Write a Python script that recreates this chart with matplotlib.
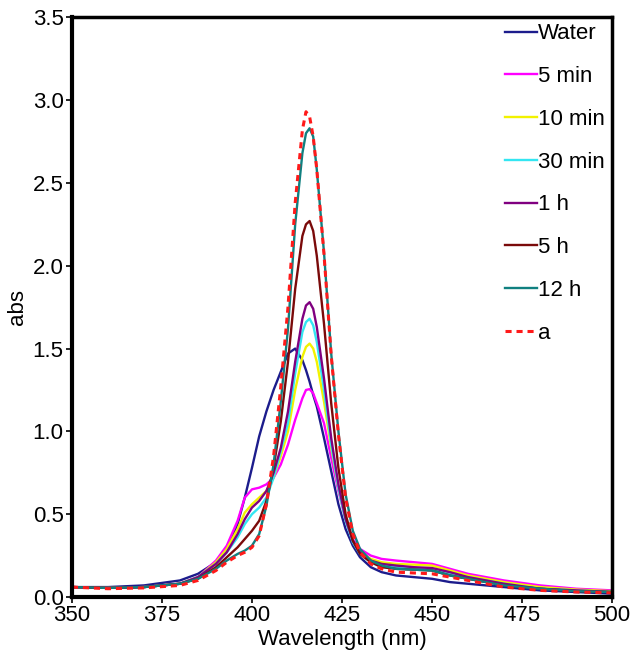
import numpy as np
import matplotlib.pyplot as plt

plt.rcParams['font.family'] = ['Liberation Sans', 'DejaVu Sans']

# wavelength grid (nm)
wl = [350, 360, 370, 380, 385, 390, 393, 396, 398, 400, 402, 404, 406, 408, 410,
      412, 414, 415, 416, 417, 418, 420, 422, 424, 426, 428, 430, 433, 436, 440,
      445, 450, 455, 460, 470, 480, 490, 500]

water = [0.06, 0.06, 0.07, 0.10, 0.14, 0.21, 0.29, 0.44, 0.60, 0.78, 0.97, 1.12, 1.25, 1.36, 1.47,
         1.50, 1.43, 1.37, 1.30, 1.22, 1.15, 0.96, 0.76, 0.56, 0.41, 0.31, 0.24, 0.18, 0.15, 0.13,
         0.12, 0.11, 0.09, 0.08, 0.06, 0.04, 0.03, 0.02]
min5 = [0.06, 0.055, 0.06, 0.08, 0.12, 0.22, 0.31, 0.46, 0.60, 0.65, 0.66, 0.68, 0.72, 0.80, 0.92,
        1.07, 1.20, 1.25, 1.255, 1.23, 1.17, 1.05, 0.84, 0.64, 0.47, 0.35, 0.29, 0.25, 0.23, 0.22,
        0.21, 0.20, 0.17, 0.14, 0.10, 0.07, 0.05, 0.04]
min10 = [0.06, 0.055, 0.06, 0.08, 0.12, 0.21, 0.29, 0.41, 0.51, 0.56, 0.60, 0.64, 0.72, 0.85, 1.00,
         1.25, 1.45, 1.51, 1.53, 1.50, 1.42, 1.18, 0.90, 0.66, 0.47, 0.34, 0.27, 0.23, 0.21, 0.20,
         0.195, 0.19, 0.16, 0.13, 0.09, 0.06, 0.045, 0.035]
min30 = [0.06, 0.055, 0.06, 0.08, 0.12, 0.20, 0.27, 0.36, 0.44, 0.50, 0.54, 0.60, 0.72, 0.88, 1.05,
         1.35, 1.60, 1.66, 1.68, 1.64, 1.54, 1.25, 0.92, 0.66, 0.46, 0.33, 0.26, 0.21, 0.19, 0.18,
         0.175, 0.17, 0.14, 0.12, 0.08, 0.05, 0.04, 0.03]
h1 = [0.06, 0.055, 0.06, 0.08, 0.12, 0.20, 0.27, 0.38, 0.47, 0.54, 0.58, 0.64, 0.75, 0.90, 1.12,
      1.42, 1.68, 1.76, 1.78, 1.74, 1.63, 1.32, 0.96, 0.68, 0.47, 0.34, 0.27, 0.22, 0.20, 0.19,
      0.18, 0.175, 0.15, 0.12, 0.08, 0.05, 0.04, 0.03]
h5 = [0.06, 0.055, 0.06, 0.08, 0.11, 0.18, 0.24, 0.30, 0.35, 0.40, 0.46, 0.58, 0.78, 1.06, 1.42,
      1.86, 2.18, 2.25, 2.27, 2.21, 2.06, 1.65, 1.17, 0.78, 0.50, 0.34, 0.26, 0.21, 0.18, 0.17,
      0.165, 0.16, 0.13, 0.11, 0.07, 0.05, 0.035, 0.03]
h12 = [0.06, 0.055, 0.06, 0.08, 0.11, 0.17, 0.22, 0.26, 0.28, 0.31, 0.38, 0.55, 0.80, 1.18, 1.62,
       2.25, 2.68, 2.80, 2.83, 2.78, 2.58, 2.08, 1.47, 1.00, 0.62, 0.40, 0.29, 0.22, 0.19, 0.17,
       0.165, 0.16, 0.13, 0.11, 0.07, 0.05, 0.035, 0.03]
a = [0.06, 0.05, 0.055, 0.07, 0.10, 0.16, 0.21, 0.25, 0.27, 0.30, 0.37, 0.56, 0.85, 1.27, 1.75,
     2.38, 2.82, 2.93, 2.90, 2.78, 2.58, 2.07, 1.46, 0.98, 0.60, 0.38, 0.27, 0.20, 0.17, 0.15,
     0.145, 0.14, 0.12, 0.10, 0.06, 0.04, 0.03, 0.025]

series = [('Water', water, '#1c1c8c'), ('5 min', min5, '#ff00ff'),
          ('10 min', min10, '#f2f200'), ('30 min', min30, '#33e6f2'),
          ('1 h', h1, '#800080'), ('5 h', h5, '#7a0a0a'), ('12 h', h12, '#108080')]

fig = plt.figure(figsize=(6.31, 6.58), dpi=100)
ax = fig.add_axes([0.114, 0.0927, 0.856, 0.881])

for name, vals, col in series:
    ax.plot(wl, vals, color=col, lw=1.7, label=name)
ax.plot(wl, a, color='#ff1a1a', lw=2.2, ls=(0, (2, 1.6)), label='a')

ax.set_xlim(350, 500)
ax.set_ylim(0, 3.5)
ax.set_xticks([350, 375, 400, 425, 450, 475, 500])
ax.set_yticks(np.arange(0, 3.6, 0.5))
ax.set_yticklabels(['0.0', '0.5', '1.0', '1.5', '2.0', '2.5', '3.0', '3.5'])
ax.tick_params(labelsize=16, length=4.5, width=1.2, pad=1.5)
ax.set_xlabel('Wavelength (nm)', fontsize=16, labelpad=2)
ax.set_ylabel('abs', fontsize=16, labelpad=3)
for s in ['left', 'bottom']:
    ax.spines[s].set_linewidth(3)
for s in ['top', 'right']:
    ax.spines[s].set_linewidth(2.5)

ax.legend(loc='upper left', bbox_to_anchor=(0.785, 1.005), frameon=False, fontsize=16,
          handlelength=1.45, handletextpad=0.05, labelspacing=0.98, borderaxespad=0)

fig.savefig('out.png', dpi=100)
